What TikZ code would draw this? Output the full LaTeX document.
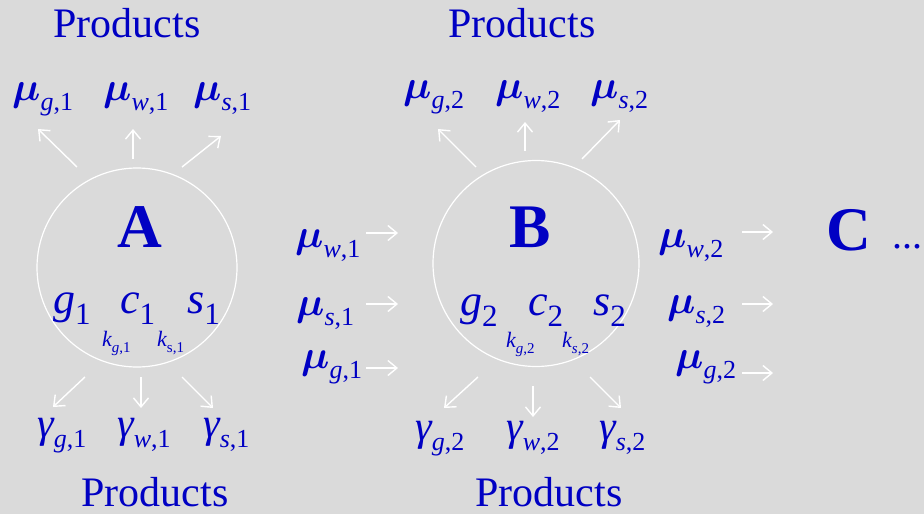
\RequirePackage{fix-cm}
\documentclass[tikz,border=0pt]{standalone}
\usepackage{amsmath}
\usepackage{fontspec}
\setmainfont{Liberation Serif}
\usetikzlibrary{arrows.meta,shapes.geometric}
\definecolor{bgc}{RGB}{218,218,218}
\definecolor{ink}{RGB}{0,0,195}
\newcommand{\mlab}[2]{{\fontsize{40}{40}\selectfont$\boldsymbol{#1}$}\raisebox{-10pt}{\fontsize{26}{26}\selectfont #2}}
\newcommand{\glab}[1]{{\fontsize{42}{42}\selectfont\itshape γ}\raisebox{-10pt}{\fontsize{26}{26}\selectfont #1}}
\newcommand{\clab}[2]{{\fontsize{44}{44}\selectfont\itshape #1}\raisebox{-11pt}{\fontsize{31}{31}\selectfont #2}}
\newcommand{\klab}[1]{{\fontsize{22}{22}\selectfont\itshape k}\raisebox{-6pt}{\fontsize{15}{15}\selectfont #1}}
\tikzset{
  lbl/.style={text=ink, inner sep=0pt, anchor=base west},
  prod/.style={text=ink, inner sep=0pt, anchor=base, font=\fontsize{42}{42}\selectfont},
  big/.style={text=ink, inner sep=0pt, anchor=base, font=\fontsize{62}{62}\selectfont\bfseries},
  ring/.style={draw=white, line width=1.2pt, ellipse, inner sep=0pt},
  arr/.style={draw=white, line width=1.4pt, -{Straight Barb[length=9pt,width=15pt,line width=1.4pt]}}
}
\begin{document}
\begin{tikzpicture}[x=1pt,y=-1pt]
\fill[bgc] (0,0) rectangle (924,514);
\useasboundingbox (0,0) rectangle (924,514);

% circles
\node[ring, minimum width=200pt, minimum height=199pt] (cA) at (137,267.5) {};
\node[ring, minimum width=206pt, minimum height=206pt] (cB) at (536,263.5) {};

% headings
\node[prod] (p1) at (127,37) {Products};
\node[prod] (p2) at (522,37) {Products};
\node[prod] (p3) at (155,506) {Products};
\node[prod] (p4) at (549,506) {Products};

% big letters
\node[big] (lA) at (140,247) {A};
\node[big] (lB) at (530,247) {B};
\node[big] (lC) at (849,250) {C};
\node[lbl, font=\fontsize{40}{40}\selectfont] (dots) at (892,248) {...};

% top labels A
\node[lbl] (mgA) at (12,100) {\mlab{\mu}{\textit{g},1}};
\node[lbl] (mwA) at (103,100) {\mlab{\mu}{\textit{w},1}};
\node[lbl] (msA) at (193,100) {\mlab{\mu}{\textit{s},1}};
% top labels B
\node[lbl] (mgB) at (403,98) {\mlab{\mu}{\textit{g},2}};
\node[lbl] (mwB) at (495,98) {\mlab{\mu}{\textit{w},2}};
\node[lbl] (msB) at (590,98) {\mlab{\mu}{\textit{s},2}};

% inside A
\node[lbl] (g1) at (53,313) {\clab{g}{1}};
\node[lbl] (c1) at (120,313) {\clab{c}{1}};
\node[lbl] (s1) at (187,313) {\clab{s}{1}};
\node[lbl] (kg1) at (102,346) {\klab{\textit{g},1}};
\node[lbl] (ks1) at (157,346) {\klab{s,1}};
% inside B
\node[lbl] (g2) at (460,315) {\clab{g}{2}};
\node[lbl] (c2) at (528,315) {\clab{c}{2}};
\node[lbl] (s2) at (593,315) {\clab{s}{2}};
\node[lbl] (kg2) at (506,347) {\klab{\textit{g},2}};
\node[lbl] (ks2) at (562,347) {\klab{\textit{s},2}};

% bottom labels
\node[lbl] (ggA) at (37,437) {\glab{\textit{g},1}};
\node[lbl] (gwA) at (117,437) {\glab{\textit{w},1}};
\node[lbl] (gsA) at (203,437) {\glab{\textit{s},1}};
\node[lbl] (ggB) at (415,440) {\glab{\textit{g},2}};
\node[lbl] (gwB) at (506,440) {\glab{\textit{w},2}};
\node[lbl] (gsB) at (599,440) {\glab{\textit{s},2}};

% inputs to B
\node[lbl] (iw) at (295,247) {\mlab{\mu}{\textit{w},1}};
\node[lbl] (is) at (296,315) {\mlab{\mu}{\textit{s},1}};
\node[lbl] (ig) at (301,368) {\mlab{\mu}{\textit{g},1}};
% outputs of B
\node[lbl] (ow) at (658,247) {\mlab{\mu}{\textit{w},2}};
\node[lbl] (os) at (667,313) {\mlab{\mu}{\textit{s},2}};
\node[lbl] (og) at (675,368) {\mlab{\mu}{\textit{g},2}};

% arrow end points
\coordinate (aT1s) at (77,167);  \coordinate (aT1e) at (38,129);
\coordinate (aT2s) at (133,159); \coordinate (aT2e) at (133,129);
\coordinate (aT3s) at (182,167); \coordinate (aT3e) at (221,136);
\coordinate (aB1s) at (85,377);  \coordinate (aB1e) at (53,407);
\coordinate (aB2s) at (141,377); \coordinate (aB2e) at (141,408);
\coordinate (aB3s) at (182,377); \coordinate (aB3e) at (213,408);
\coordinate (bT1s) at (476,167); \coordinate (bT1e) at (438,129);
\coordinate (bT2s) at (525,151); \coordinate (bT2e) at (525,122);
\coordinate (bT3s) at (582,159); \coordinate (bT3e) at (620,120);
\coordinate (bB1s) at (478,377); \coordinate (bB1e) at (444,408);
\coordinate (bB2s) at (533,386); \coordinate (bB2e) at (533,417);
\coordinate (bB3s) at (590,377); \coordinate (bB3e) at (621,408);
\coordinate (in1s) at (366,233); \coordinate (in1e) at (398,233);
\coordinate (in2s) at (366,304); \coordinate (in2e) at (398,304);
\coordinate (in3s) at (366,368); \coordinate (in3e) at (398,368);
\coordinate (ou1s) at (742,232); \coordinate (ou1e) at (773,232);
\coordinate (ou2s) at (742,304); \coordinate (ou2e) at (773,304);
\coordinate (ou3s) at (742,373); \coordinate (ou3e) at (773,373);

\foreach \n in {aT1,aT2,aT3,aB1,aB2,aB3,bT1,bT2,bT3,bB1,bB2,bB3,in1,in2,in3,ou1,ou2,ou3}
  \draw[arr] (\n s) -- (\n e);
\end{tikzpicture}
\end{document}
